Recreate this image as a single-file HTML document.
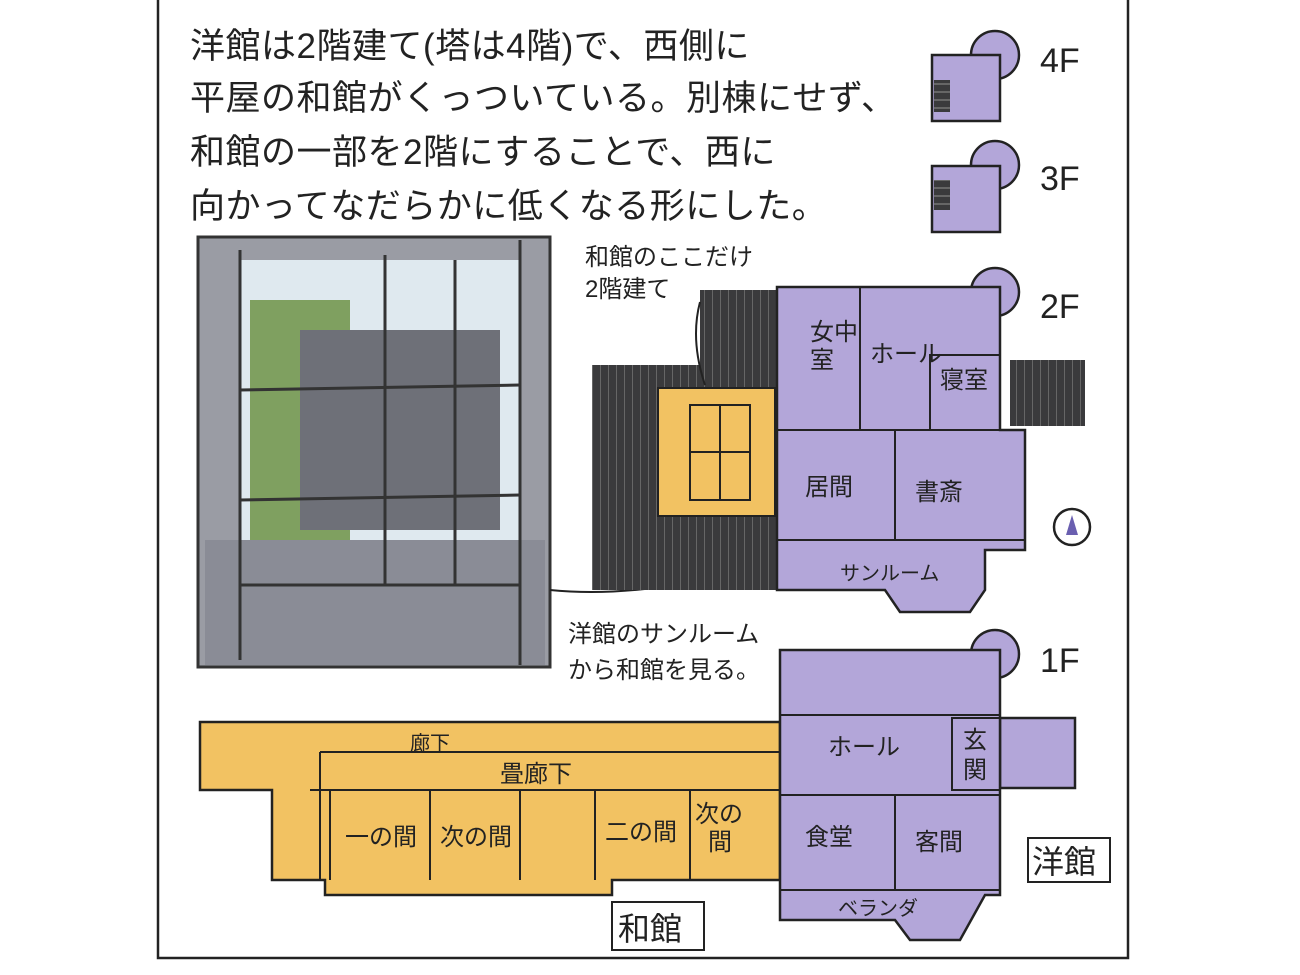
<!DOCTYPE html>
<html><head><meta charset="utf-8"><style>
html,body{margin:0;padding:0;background:#fff;}
svg{display:block}
text{font-family:"Liberation Sans","Noto Sans CJK JP",sans-serif;fill:#222}
</style></head><body>
<svg width="1300" height="975" viewBox="0 0 1300 975" xmlns="http://www.w3.org/2000/svg">
<defs>
<pattern id="hatch" width="8" height="8" patternUnits="userSpaceOnUse">
<rect width="8" height="8" fill="#3a3a3c"/><line x1="0" y1="0" x2="0" y2="8" stroke="#666" stroke-width="2"/>
</pattern>
<pattern id="hatchh" width="8" height="8" patternUnits="userSpaceOnUse">
<rect width="8" height="8" fill="#3a3a3c"/><line x1="0" y1="4" x2="8" y2="4" stroke="#666" stroke-width="2"/>
</pattern>
</defs>
<path d="M158 0 V958 H1128 V0" fill="none" stroke="#222" stroke-width="2.5"/>
<g font-size="35" letter-spacing="0.5">
<text x="190" y="58">洋館は2階建て(塔は4階)で、西側に</text>
<text x="190" y="110">平屋の和館がくっついている。別棟にせず、</text>
<text x="190" y="164">和館の一部を2階にすることで、西に</text>
<text x="190" y="218">向かってなだらかに低くなる形にした。</text>
</g>
<g fill="#b3a6d9" stroke="#222" stroke-width="2.5">
<circle cx="995" cy="55" r="24"/><rect x="932" y="55" width="68" height="66"/>
<circle cx="995" cy="165" r="24"/><rect x="932" y="166" width="68" height="66"/>
</g>
<rect x="934" y="80" width="16" height="32" fill="url(#hatchh)"/>
<rect x="934" y="180" width="16" height="30" fill="url(#hatchh)"/>
<g font-size="34"><text x="1040" y="72">4F</text><text x="1040" y="190">3F</text><text x="1040" y="318">2F</text><text x="1040" y="672">1F</text></g>

<rect x="198" y="237" width="352" height="430" fill="#9a9ca4"/>
<rect x="240" y="260" width="280" height="320" fill="#dfe9ef"/>
<rect x="250" y="300" width="100" height="250" fill="#7fa060"/>
<rect x="300" y="330" width="200" height="200" fill="#6e7078"/>
<rect x="205" y="540" width="340" height="125" fill="#8a8c96"/>
<g stroke="#333" stroke-width="3" fill="none">
<rect x="198" y="237" width="352" height="430"/>
<line x1="240" y1="250" x2="240" y2="660"/><line x1="385" y1="255" x2="385" y2="585"/><line x1="455" y1="260" x2="455" y2="585"/>
<line x1="240" y1="390" x2="520" y2="385"/><line x1="240" y1="500" x2="520" y2="495"/><line x1="240" y1="585" x2="520" y2="585"/>
<line x1="520" y1="240" x2="520" y2="665"/>
</g>
<path d="M550 590 Q650 600 780 560" fill="none" stroke="#222" stroke-width="2"/>

<path d="M700 290 H777 V590 H592 V365 H700 Z" fill="url(#hatch)"/>
<rect x="1010" y="360" width="75" height="66" fill="url(#hatch)"/>
<g fill="#b3a6d9" stroke="#222" stroke-width="2.5">
<circle cx="995" cy="292" r="24"/>
<path d="M777 287 H1000 V430 H1025 V550 H985 V590 L970 612 H900 L885 590 H777 Z"/>
</g>
<rect x="658" y="388" width="117" height="128" fill="#f2c262" stroke="#222" stroke-width="2"/>
<g stroke="#222" stroke-width="2" fill="none">
<rect x="690" y="405" width="60" height="95"/><line x1="690" y1="452" x2="750" y2="452"/><line x1="720" y1="405" x2="720" y2="500"/>
<line x1="777" y1="430" x2="1000" y2="430"/><line x1="895" y1="430" x2="895" y2="540"/>
<line x1="777" y1="540" x2="1025" y2="540"/><line x1="860" y1="287" x2="860" y2="430"/>
<rect x="930" y="355" width="70" height="75"/>
</g>
<g font-size="24"><text x="810" y="340">女中</text><text x="810" y="368">室</text><text x="870" y="362">ホール</text><text x="940" y="388">寝室</text>
<text x="805" y="495">居間</text><text x="915" y="500">書斎</text><text x="840" y="580" font-size="20">サンルーム</text></g>
<g font-size="24"><text x="585" y="265">和館のここだけ</text><text x="585" y="297">2階建て</text>
<text x="568" y="642">洋館のサンルーム</text><text x="568" y="678">から和館を見る。</text></g>
<path d="M700 302 Q690 340 705 385" fill="none" stroke="#222" stroke-width="2"/>
<circle cx="1072" cy="527" r="18" fill="#fff" stroke="#222" stroke-width="2.5"/>
<path d="M1072 515 L1066 535 L1078 535 Z" fill="#6a5fb0"/>

<g fill="#f2c262" stroke="#222" stroke-width="2.5">
<path d="M200 722 H780 V880 H612 V895 H325 V880 H272 V790 H200 Z"/>
</g>
<g stroke="#222" stroke-width="2" fill="none">
<line x1="320" y1="752" x2="780" y2="752"/><line x1="320" y1="752" x2="320" y2="880"/>
<line x1="310" y1="790" x2="780" y2="790"/><line x1="330" y1="790" x2="330" y2="880"/>
<line x1="430" y1="790" x2="430" y2="880"/><line x1="520" y1="790" x2="520" y2="880"/>
<line x1="595" y1="790" x2="595" y2="880"/><line x1="690" y1="790" x2="690" y2="880"/>
</g>
<rect x="1000" y="718" width="75" height="70" fill="#b3a6d9" stroke="#222" stroke-width="2.5"/>
<g fill="#b3a6d9" stroke="#222" stroke-width="2.5">
<circle cx="995" cy="654" r="24"/>
<path d="M780 650 H1000 V895 H985 L960 940 H910 L895 920 H780 Z"/>
</g>
<g stroke="#222" stroke-width="2" fill="none">
<line x1="780" y1="715" x2="1000" y2="715"/><line x1="780" y1="795" x2="1000" y2="795"/>
<line x1="895" y1="795" x2="895" y2="890"/><line x1="780" y1="890" x2="1000" y2="890"/>
<rect x="952" y="718" width="48" height="72"/>
</g>
<g font-size="24"><text x="410" y="750" font-size="20">廊下</text><text x="500" y="782">畳廊下</text>
<text x="345" y="845">一の間</text><text x="440" y="845">次の間</text><text x="605" y="840">二の間</text>
<text x="695" y="822">次の</text><text x="708" y="850">間</text>
<text x="828" y="755">ホール</text><text x="963" y="748">玄</text><text x="963" y="778">関</text>
<text x="805" y="845">食堂</text><text x="915" y="850">客間</text><text x="838" y="915" font-size="20">ベランダ</text></g>
<rect x="612" y="902" width="92" height="48" fill="#fff" stroke="#222" stroke-width="2"/>
<text x="618" y="940" font-size="32">和館</text>
<rect x="1028" y="838" width="82" height="44" fill="#fff" stroke="#222" stroke-width="2"/>
<text x="1032" y="873" font-size="32">洋館</text>
</svg>
</body></html>
